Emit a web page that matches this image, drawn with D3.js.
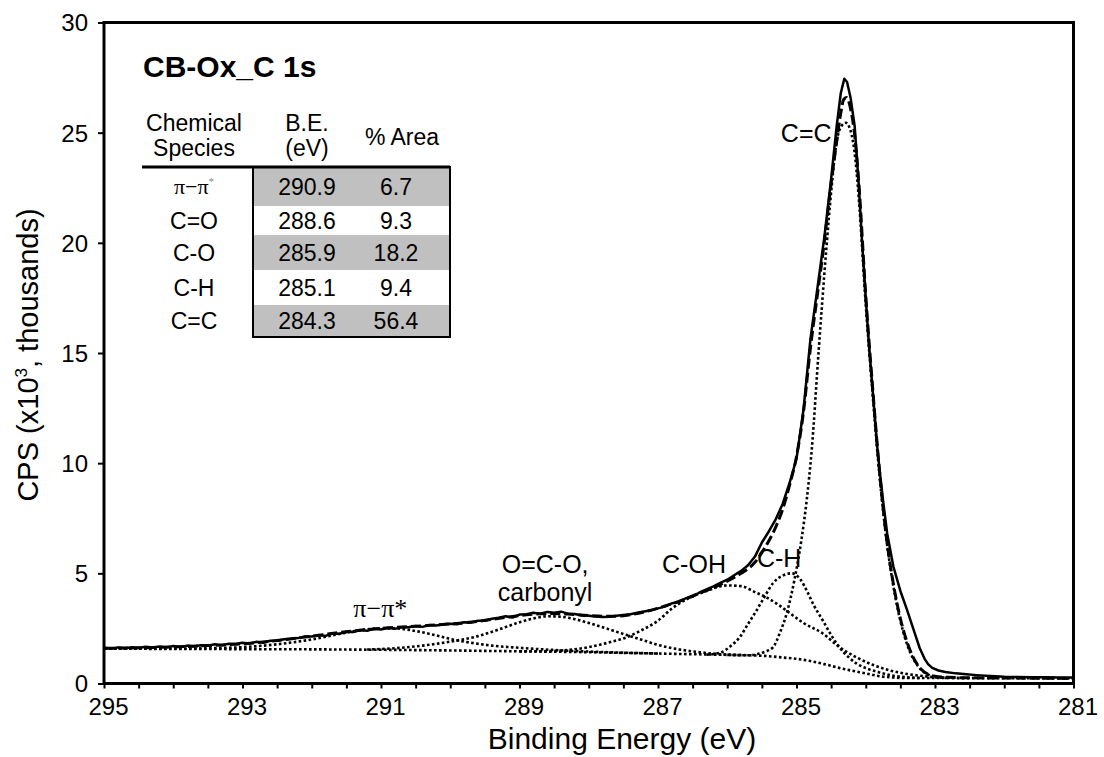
<!DOCTYPE html>
<html><head><meta charset="utf-8">
<script src="https://cdn.jsdelivr.net/npm/d3@7"></script>
<style>body{margin:0;background:#fff} svg{display:block}</style>
</head><body>
<svg id="c" width="1104" height="757"></svg>
<script>
// ---------- data (binding energy eV, CPS in thousands) ----------
const xTicks = d3.range(281, 295.01, 0.5);
const xLabels = [295, 293, 291, 289, 287, 285, 283, 281];
const yTicks = [0, 5, 10, 15, 20, 25, 30];

const species = ["π−π*", "C=O", "C-O", "C-H", "C=C"];
const bindingE = ["290.9", "288.6", "285.9", "285.1", "284.3"];
const areaPct = ["6.7", "9.3", "18.2", "9.4", "56.4"];

const experimental = [
[295.0,1.62],[294.9,1.59],[294.8,1.64],[294.7,1.60],[294.6,1.65],[294.5,1.61],[294.4,1.67],[294.3,1.63],[294.2,1.68],[294.1,1.64],
[294.0,1.70],[293.9,1.66],[293.8,1.72],[293.7,1.69],[293.6,1.74],[293.5,1.71],[293.4,1.78],[293.3,1.73],[293.2,1.80],[293.1,1.79],
[293.0,1.85],[292.9,1.82],[292.8,1.89],[292.7,1.85],[292.6,1.94],[292.5,1.94],[292.4,2.01],[292.3,2.03],[292.2,2.06],[292.1,2.13],
[292.0,2.13],[291.9,2.20],[291.8,2.16],[291.7,2.27],[291.6,2.26],[291.5,2.35],[291.4,2.34],[291.3,2.43],[291.2,2.39],[291.1,2.48],
[291.0,2.45],[290.9,2.53],[290.8,2.48],[290.7,2.56],[290.6,2.55],[290.5,2.61],[290.4,2.57],[290.3,2.66],[290.2,2.63],[290.1,2.69],
[290.0,2.71],[289.9,2.69],[289.8,2.78],[289.7,2.77],[289.6,2.85],[289.5,2.85],[289.4,2.94],[289.3,2.98],[289.2,3.05],[289.1,2.99],
[289.0,3.13],[288.9,3.14],[288.8,3.21],[288.7,3.17],[288.6,3.25],[288.5,3.21],[288.4,3.26],[288.3,3.17],[288.2,3.15],[288.1,3.09],
[288.0,3.07],[287.9,3.04],[287.8,3.02],[287.7,3.03],[287.6,3.07],[287.5,3.11],[287.4,3.14],[287.3,3.21],[287.2,3.27],[287.1,3.32],
[287.0,3.41],[286.9,3.49],[286.8,3.64],[286.7,3.69],[286.6,3.87],[286.5,3.94],[286.4,4.13],[286.3,4.27],[286.2,4.41],[286.1,4.57],
[286.0,4.71],[285.9,4.91],[285.8,5.11],[285.7,5.37],[285.6,5.76],[285.5,6.40],[285.4,6.90],[285.3,7.45],[285.2,8.15],[285.1,9.10],
[285.0,10.2],[284.9,12.4],[284.8,15.6],[284.7,17.9],[284.6,20.2],[284.5,22.9],[284.42,25.3],[284.36,26.8],[284.31,27.45],[284.27,27.3],
[284.22,26.6],[284.16,25.3],[284.1,22.6],[284.05,19.9],[284.0,17.5],[283.95,15.2],[283.9,13.3],[283.83,10.6],[283.8,9.7],[283.75,8.3],
[283.69,6.8],[283.6,5.3],[283.5,4.2],[283.41,3.4],[283.3,2.35],[283.22,1.6],[283.15,1.12],[283.1,0.88],[283.04,0.71],[282.95,0.59],
[282.85,0.52],[282.7,0.46],[282.55,0.42],[282.4,0.38],[282.2,0.34],[282.0,0.31],[281.8,0.30],[281.6,0.28],[281.4,0.28],[281.2,0.27],[281.0,0.27]
];

const envelope = [
[295,1.60],[294.5,1.62],[294,1.66],[293.5,1.72],[293,1.80],[292.5,1.95],[292,2.15],[291.5,2.35],[291,2.50],[290.5,2.60],
[290,2.70],[289.6,2.82],[289.2,3.00],[288.9,3.12],[288.6,3.18],[288.3,3.15],[288,3.08],[287.7,3.05],[287.45,3.10],[287.2,3.25],
[287,3.42],[286.8,3.62],[286.6,3.85],[286.4,4.10],[286.2,4.35],[286,4.65],[285.8,5.00],[285.6,5.50],[285.45,6.20],[285.3,7.10],
[285.2,7.90],[285.1,9.00],[285.0,10.3],[284.9,12.3],[284.8,15.2],[284.7,17.6],[284.6,20.0],[284.5,22.7],[284.42,24.6],[284.36,25.9],
[284.32,26.5],[284.28,26.6],[284.22,26.1],[284.15,24.6],[284.1,22.7],[284.0,17.6],[283.9,13.4],[283.8,9.6],[283.7,6.6],[283.6,4.5],
[283.5,2.95],[283.4,1.85],[283.3,1.10],[283.2,0.65],[283.1,0.42],[283.0,0.33],[282.8,0.28],[282.5,0.26],[282,0.25],[281,0.23]
];

const background = [
[295,1.58],[294,1.57],[293,1.56],[292,1.55],[291,1.53],[290,1.50],[289,1.46],[288,1.42],[287.5,1.39],[287,1.36],
[286.5,1.33],[286,1.30],[285.5,1.26],[285.2,1.18],[285.0,1.12],[284.8,1.02],[284.6,0.88],[284.4,0.72],[284.2,0.58],[284.0,0.46],
[283.8,0.33],[283.6,0.27],[283.4,0.25],[283.0,0.25],[282,0.24],[281,0.23]
];

const compPiPi = [
[295,1.58],[294,1.58],[293.5,1.60],[293,1.65],[292.5,1.78],[292,2.00],[291.6,2.25],[291.3,2.42],[291.0,2.50],[290.8,2.50],
[290.5,2.38],[290.2,2.18],[290.0,2.02],[289.7,1.85],[289.4,1.72],[289.0,1.62],[288.5,1.52],[288,1.45],[287.5,1.40],[287,1.36]
];

const compCarbonyl = [
[291.2,1.54],[290.8,1.60],[290.4,1.72],[290.0,1.90],[289.6,2.15],[289.3,2.45],[289.0,2.78],[288.8,2.95],[288.6,3.05],[288.4,3.03],
[288.2,2.92],[288.0,2.75],[287.7,2.45],[287.45,2.20],[287.25,2.00],[287.0,1.75],[286.7,1.55],[286.4,1.42],[286.1,1.33],[285.8,1.29]
];

const compCOH = [
[289.0,1.46],[288.6,1.47],[288.3,1.52],[288.0,1.65],[287.7,1.87],[287.45,2.10],[287.25,2.40],[287.0,2.85],[286.8,3.40],[286.6,3.80],
[286.3,4.20],[286.0,4.45],[285.8,4.42],[285.6,4.15],[285.43,3.90],[285.25,3.55],[285.1,3.20],[284.9,2.75],[284.62,2.27],[284.4,1.70],
[284.13,1.18],[283.9,0.85],[283.66,0.60],[283.4,0.43],[283.18,0.34],[283.0,0.28],[282.8,0.25]
];

const compCH = [
[286.3,1.31],[286.1,1.40],[285.95,1.70],[285.82,2.10],[285.7,2.70],[285.58,3.30],[285.45,4.00],[285.34,4.55],[285.2,4.90],[285.07,5.00],
[284.95,4.75],[284.85,4.20],[284.75,3.55],[284.62,2.86],[284.5,2.20],[284.38,1.64],[284.25,1.20],[284.13,0.90],[284.0,0.70],[283.8,0.50],
[283.6,0.35],[283.4,0.28],[283.2,0.25]
];

const compCC = [
[286.0,1.30],[285.7,1.28],[285.58,1.32],[285.45,1.45],[285.34,1.64],[285.24,2.30],[285.14,3.20],[285.03,4.70],[284.93,6.50],[284.85,8.40],
[284.78,10.6],[284.68,15.1],[284.57,19.7],[284.5,22.3],[284.42,24.6],[284.35,25.3],[284.29,25.45],[284.22,25.1],[284.15,23.8],[284.1,22.0],
[284.0,17.2],[283.9,13.1],[283.8,9.4],[283.7,6.5],[283.6,4.4],[283.5,2.85],[283.4,1.75],[283.3,1.05],[283.2,0.62],[283.1,0.40],
[283.0,0.30],[282.8,0.26],[282.5,0.24]
];

const peakLabels = [
  {lines:["C=C"], at:[284.86, 24.58], serif:false},
  {lines:["C-H"], at:[285.25, 5.29], serif:false},
  {lines:["C-OH"], at:[286.48, 5.02], serif:false},
  {lines:["O=C-O,", "carbonyl"], at:[288.63, 5.02], serif:false},
  {lines:["π−π*"], at:[291.01, 3.02], serif:true}
];

// ---------- drawing ----------
const FONT = "'Liberation Sans', Arial, Helvetica, sans-serif";
const SERIF = "'Liberation Serif', 'Times New Roman', serif";
const svg = d3.select('#c');
const M = {l:104, r:1073.5, t:22.5, b:683.5};
const x = d3.scaleLinear().domain([295, 281]).range([M.l, M.r]);
const y = d3.scaleLinear().domain([0, 30]).range([M.b, M.t]);

svg.append('defs').append('clipPath').attr('id','clip')
  .append('rect').attr('x',M.l).attr('y',M.t).attr('width',M.r-M.l).attr('height',M.b-M.t);

const line = d3.line().x(d => x(d[0])).y(d => y(d[1]));
const smooth = d3.line().x(d => x(d[0])).y(d => y(d[1])).curve(d3.curveMonotoneX);
const plot = svg.append('g').attr('clip-path','url(#clip)');

[background, compPiPi, compCarbonyl, compCOH, compCH, compCC].forEach(s => {
  plot.append('path').datum(s.slice().sort((a,b)=>b[0]-a[0])).attr('d', smooth)
    .attr('fill','none').attr('stroke','#000').attr('stroke-width',2.6).attr('stroke-dasharray','2.6,2.4');
});
plot.append('path').datum(envelope).attr('d', smooth)
  .attr('fill','none').attr('stroke','#000').attr('stroke-width',3).attr('stroke-dasharray','10,4');
plot.append('path').datum(experimental).attr('d', line)
  .attr('fill','none').attr('stroke','#000').attr('stroke-width',2.5).attr('stroke-linejoin','round');

// axes
const gx = svg.append('g').attr('transform',`translate(0,${M.b})`)
  .call(d3.axisBottom(x).tickValues(xTicks).tickSize(5).tickSizeOuter(0)
    .tickFormat(d => xLabels.includes(d) ? String(d) : ''));
gx.select('.domain').remove();
gx.selectAll('line').attr('stroke','#000').attr('stroke-width',2);
gx.selectAll('text').attr('font-size',24).attr('font-family',FONT).attr('fill','#000')
  .attr('y',31.5).attr('dy',0).attr('dx',4);

const gy = svg.append('g').attr('transform',`translate(${M.l},0)`)
  .call(d3.axisLeft(y).tickValues(yTicks).tickSize(6).tickSizeOuter(0));
gy.select('.domain').remove();
gy.selectAll('line').attr('stroke','#000').attr('stroke-width',2);
gy.selectAll('text').attr('font-size',24).attr('font-family',FONT).attr('fill','#000')
  .attr('x',-16).attr('dy','0.35em');

svg.append('rect').attr('x',M.l).attr('y',M.t).attr('width',M.r-M.l).attr('height',M.b-M.t)
  .attr('fill','none').attr('stroke','#000').attr('stroke-width',3);

// axis titles
svg.append('text').attr('x',622).attr('y',749).attr('text-anchor','middle')
  .attr('font-family',FONT).attr('font-size',30).text('Binding Energy (eV)');
const yt = svg.append('text').attr('transform','translate(38,355) rotate(-90)').attr('text-anchor','middle')
  .attr('font-family',FONT).attr('font-size',29);
yt.append('tspan').text('CPS (x10');
yt.append('tspan').attr('font-size',17).attr('dy',-11).text('3');
yt.append('tspan').attr('dy',11).text(', thousands)');

// peak labels
peakLabels.forEach(p => {
  p.lines.forEach((t, i) => {
    svg.append('text').attr('x', x(p.at[0])).attr('y', i === 0 ? y(p.at[1]) : y(p.at[1]) + 28)
      .attr('text-anchor','middle').attr('font-family', p.serif ? SERIF : FONT)
      .attr('font-size', p.serif ? 26 : 25).text(t);
  });
});

// title
svg.append('text').attr('x',143).attr('y',77).attr('font-family',FONT).attr('font-weight','bold')
  .attr('font-size',30).text('CB-Ox_C 1s');

// table
const tbl = svg.append('g');
const colX = {sp:194, be:307, ar:396};
const boxL = 253, boxR = 450, headY = 167;
const rowEdges = [167, 206, 235, 270, 305, 337];
const tf = 23;
tbl.append('text').attr('x',colX.sp).attr('y',131).attr('text-anchor','middle').attr('font-family',FONT).attr('font-size',tf).text('Chemical');
tbl.append('text').attr('x',colX.sp).attr('y',156).attr('text-anchor','middle').attr('font-family',FONT).attr('font-size',tf).text('Species');
tbl.append('text').attr('x',colX.be).attr('y',131).attr('text-anchor','middle').attr('font-family',FONT).attr('font-size',tf).text('B.E.');
tbl.append('text').attr('x',colX.be).attr('y',156).attr('text-anchor','middle').attr('font-family',FONT).attr('font-size',tf).text('(eV)');
tbl.append('text').attr('x',402).attr('y',145).attr('text-anchor','middle').attr('font-family',FONT).attr('font-size',tf).text('% Area');

species.forEach((s, i) => {
  const y0 = rowEdges[i], y1 = rowEdges[i+1], cy = (y0 + y1) / 2;
  if (i % 2 === 0) tbl.append('rect').attr('x',boxL).attr('y',y0).attr('width',boxR-boxL).attr('height',y1-y0).attr('fill','#c0c0c0');
  if (s.includes('*')) {
    const t = tbl.append('text').attr('x',colX.sp).attr('y',cy).attr('dy','0.35em').attr('text-anchor','middle')
      .attr('font-family',SERIF).attr('font-size',22);
    t.append('tspan').text(s.replace('*',''));
    t.append('tspan').attr('font-size',11).attr('dy',-9).attr('fill','#888').text('*');
  } else {
    tbl.append('text').attr('x',colX.sp).attr('y',cy).attr('dy','0.35em').attr('text-anchor','middle')
      .attr('font-family',FONT).attr('font-size',tf).text(s);
  }
  tbl.append('text').attr('x',colX.be).attr('y',cy).attr('dy','0.35em').attr('text-anchor','middle')
    .attr('font-family',FONT).attr('font-size',tf).text(bindingE[i]);
  tbl.append('text').attr('x',colX.ar).attr('y',cy).attr('dy','0.35em').attr('text-anchor','middle')
    .attr('font-family',FONT).attr('font-size',tf).text(areaPct[i]);
});
tbl.append('rect').attr('x',boxL).attr('y',headY).attr('width',boxR-boxL).attr('height',rowEdges[5]-headY)
  .attr('fill','none').attr('stroke','#000').attr('stroke-width',2);
tbl.append('line').attr('x1',142).attr('x2',boxR).attr('y1',headY).attr('y2',headY)
  .attr('stroke','#000').attr('stroke-width',3);
</script>
</body></html>
